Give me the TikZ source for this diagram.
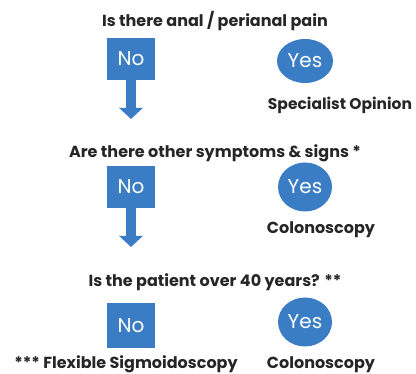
\documentclass[tikz,border=0pt]{standalone}
\usepackage{fontspec}
\setmainfont{Poppins}
\usetikzlibrary{arrows.meta,shapes.geometric}
\definecolor{boxblue}{RGB}{59,125,196}
\definecolor{txt}{RGB}{38,38,38}
\begin{document}
\begin{tikzpicture}[x=1pt,y=-1pt,
  question/.style={font=\bfseries\fontsize{16}{19}\selectfont, text=txt, anchor=base, inner sep=0pt},
  nobox/.style={fill=boxblue, minimum width=48pt, minimum height=42pt, inner sep=0pt, text=white, font=\fontsize{20}{24}\selectfont},
  yesball/.style={ellipse, fill=boxblue, inner sep=0pt, text=white, font=\fontsize{20}{24}\selectfont},
  down/.style={draw=boxblue, line width=10pt, -{Triangle[width=23pt,length=11pt]}}]
\useasboundingbox (0,0) rectangle (416,374);
% level 1
\node[question] (q1) at (215,27) {Is there anal / perianal pain};
\node[nobox] (no1) at (131,59) {No};
\coordinate (tip1) at (131,119);
\draw[down] (no1.south) -- (tip1);
\node[yesball, minimum width=56pt, minimum height=44pt] (yes1) at (305,61) {Yes};
\node[question, font=\bfseries\fontsize{15.5}{19}\selectfont] (r1) at (340,110) {Specialist Opinion};
% level 2
\node[question] (q2) at (215,158) {Are there other symptoms \& signs *};
\node[nobox] (no2) at (131,187) {No};
\coordinate (tip2) at (131,247);
\draw[down] (no2.south) -- (tip2);
\node[yesball, minimum width=54pt, minimum height=49pt] (yes2) at (305,187) {Yes};
\node[question] (r2) at (321,234) {Colonoscopy};
% level 3
\node[question] (q3) at (215,287) {Is the patient over 40 years? **};
\node[nobox, minimum height=45pt] (no3) at (131,326) {No};
\node[yesball, minimum width=54pt, minimum height=49pt] (yes3) at (305,322) {Yes};
\node[question] (r3) at (321,369) {Colonoscopy};
\node[question] (r4) at (126,369) {*** Flexible Sigmoidoscopy};
\end{tikzpicture}
\end{document}
